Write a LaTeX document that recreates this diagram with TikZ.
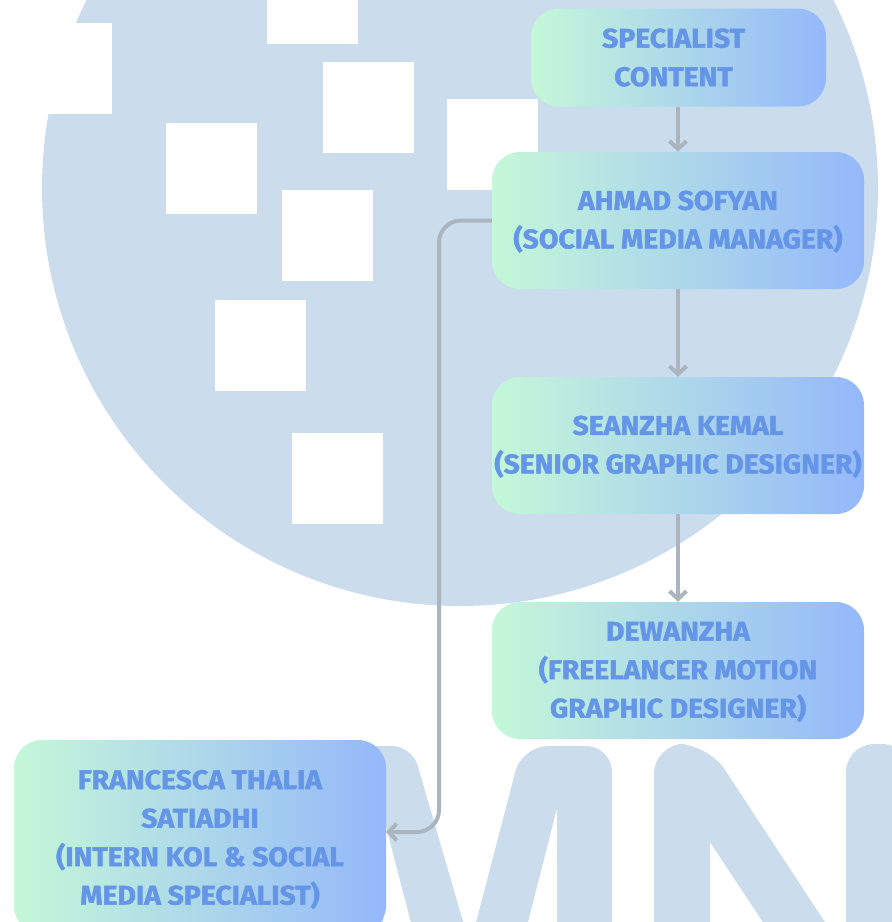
\documentclass[tikz,border=0pt]{standalone}
\usepackage{fontspec}
\setmainfont{Fira Sans}[BoldFeatures={FakeBold=1.6,FakeStretch=1.05}]
\usetikzlibrary{arrows.meta}
\definecolor{wmblue}{HTML}{CBDCED}
\definecolor{boxleft}{HTML}{C4F8D8}
\definecolor{boxright}{HTML}{94B8FB}
\definecolor{boxtext}{HTML}{6495E6}
\definecolor{linkgray}{HTML}{ABB5BF}
\newcommand{\capstrut}[1]{\rule{0pt}{#1}}
\tikzset{
  orgbox/.style={rounded corners=28pt,left color=boxleft,right color=boxright,
    minimum width=372pt,minimum height=137pt,inner sep=0pt,align=center,
    text=boxtext,font=\fontsize{27}{38.5}\selectfont\bfseries},
  link/.style={draw=linkgray,line width=4pt,-{Straight Barb[length=8pt,width=17pt]}},
  wmsquare/.style={fill=white,minimum size=91pt,inner sep=0pt},
}
\begin{document}
\begin{tikzpicture}[x=1pt,y=-1pt]
  \useasboundingbox (0,0) rectangle (892,922);
  % watermark
  \begin{scope}
    \clip (0,0) rectangle (892,922);
    \fill[wmblue] (460,188) circle (418pt);
    \node[wmsquare] (sqa) at (66.5,68.5) {};
    \node[wmsquare] (sqb) at (312.5,-1.5) {};
    \node[wmsquare] (sqc) at (368.5,107.5) {};
    \node[wmsquare] (sqd) at (211.5,168.5) {};
    \node[wmsquare] (sqe) at (492.5,144.5) {};
    \node[wmsquare] (sqf) at (327.5,235.5) {};
    \node[wmsquare] (sqg) at (260.5,345.5) {};
    \node[wmsquare] (sqh) at (337.5,478.5) {};
    % letter M
    \fill[wmblue,rounded corners=20pt] (340,746) -- (412,746) -- (469,942) [sharp corners] -- (416,942)
      -- (383,815) -- (383,942) -- (340,942) -- cycle;
    \fill[wmblue] (471,942) [rounded corners=26pt] -- (522,746) -- (612,746) [sharp corners] -- (612,942)
      -- (557,942) -- (557,808) -- (523,942) -- cycle;
    % letter N
    \fill[wmblue] (654,942) [rounded corners=30pt] -- (654,744) -- (708,744) [sharp corners] -- (838,942)
      -- (776,942) -- (710,842) -- (710,942) -- cycle;
    \fill[wmblue] (846,942) [rounded corners=28pt] -- (846,744) -- (910,744) [sharp corners] -- (910,942) -- cycle;
  \end{scope}
  % boxes
  \node[orgbox,minimum width=295pt,minimum height=98pt] (content) at (678.5,57.5)
    {\hspace*{-10pt}SPECIALIST\\\hspace*{-10pt}CONTENT};
  \node[orgbox] (ahmad) at (678,220.5) {\capstrut{21.5pt}AHMAD SOFYAN\\(SOCIAL MEDIA MANAGER)};
  \node[orgbox] (seanzha) at (678,445.5) {\capstrut{21.5pt}SEANZHA KEMAL\\(SENIOR GRAPHIC DESIGNER)};
  \node[orgbox] (dewanzha) at (678,670.5) {\capstrut{21.5pt}DEWANZHA\\(FREELANCER MOTION\\GRAPHIC DESIGNER)};
  \node[orgbox,minimum height=194pt] (francesca) at (200,837) {\capstrut{24pt}FRANCESCA THALIA\\SATIADHI\\(INTERN KOL \& SOCIAL\\MEDIA SPECIALIST)};
  \coordinate (francescain) at (386,832);
  % connectors
  \draw[link] (ahmad.north |- content.south) -- (ahmad.north);
  \draw[link] (ahmad) -- (seanzha);
  \draw[link] (seanzha) -- (dewanzha);
  \draw[link,rounded corners=22pt] (ahmad.west) -- (439,220.5) -- (439,832) -- (francescain);
\end{tikzpicture}
\end{document}
